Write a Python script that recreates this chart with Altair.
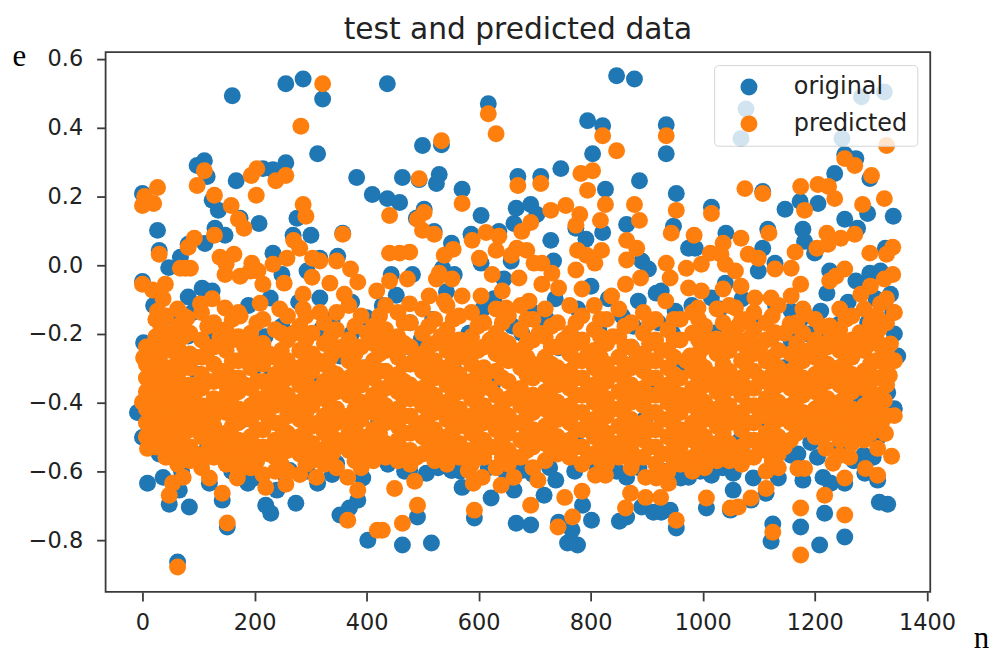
import altair as alt
import pandas as pd

orig_top_left = [(161,.488),(257,.523),(288,.537),(323,.479),(314,.32),(384,.251),(412,.202),(111,.30),(98,.286),(116,.254),(168,.242),(216,.277),(257,.294),(234,.274),(0,.205),(125,.185),(136,.156),(175,.133),(209,.118),(27,.098),(130,.104),(148,.084),(277,.133),(302,.084),(270,.084),(359,.09),(112,.06),(30,.04),(82,.058),(68,.02),(47,-.01),(234,.032),(350,.023),(318,.017),(295,-.02),(107,-.07),(82,-.095),(125,-.078),(0,-.05),(229,-.098),(250,-.03),(318,-.098),(402,-.155)]
orig_low_left = [(2,-.228),(82,-.208),(375,-.202),(354,-.266),(229,-.329),(-9,-.43),(0,-.502),(41,-.531),(116,-.534),(9,-.635),(37,-.618),(66,-.655),(48,-.696),(84,-.704),(120,-.635),(143,-.684),(152,-.762),(63,-.863),(221,-.699),(230,-.722),(275,-.693),(189,-.635),(241,-.655),(264,-.598),(314,-.635),(321,-.548),(348,-.577),(386,-.684),(354,-.727),(371,-.707),(404,-.8)]
orig_top_mid = [(439,.523),(620,.465),(502,.344),(536,.346),(850,.546),(882,.537),(798,.416),(825,.401),(807,.32),(750,.277),(891,.242),(466,.251),(496,.245),(532,.26),(527,.234),(573,.217),(673,.254),(714,.254),(830,.217),(439,.19),(461,.179),(505,.159),(491,.133),(607,.141),(670,.162),(696,.173),(707,.144),(666,.118),(523,.095),(554,.061),(589,.087),(639,.095),(732,.069),(868,.115),(825,.092),(795,.072),(777,.104),(607,.003),(661,.009),(737,.009),(895,.009),(907,-.014),(804,-.064),(889,-.107),(921,-.084),(446,-.03),(484,-.03),(538,-.012),(559,-.03),(648,-.043),(723,-.156)]
orig_low_mid = [(466,-.814),(518,-.808),(670,-.751),(696,-.756),(762,-.808),(780,-.814),(770,-.771),(746,-.748),(805,-.742),(855,-.745),(868,-.733),(789,-.699),(493,-.733),(595,-.736),(573,-.647),(625,-.678),(666,-.655),(720,-.67),(868,-.618),(741,-.626),(916,-.719),(895,-.704),(554,-.598),(479,-.598),(509,-.606),(680,-.598),(782,-.525),(841,-.569),(598,-.372),(627,-.352),(484,-.245),(550,-.237),(746,-.242),(500,-.217),(663,-.179),(725,-.185),(818,-.188),(877,-.242),(889,-.289),(911,-.361)]
orig_top_right = [(939,.404),(939,.32),(957,.205),(1020,.165),(952,.11),(979,.046),(1046,.09),(1121,.101),(1112,.046),(1112,.211),(1082,.45),(1073,.364),(1289,.485),(1330,.499),(1254,.364),(1241,.263),(1279,.306),(1259,.318),(1304,.248),(1152,.159),(1179,.182),(1211,.176),(1259,.13),(1300,.147),(1346,.139),(1282,.104),(1184,.101),(1187,.066),(1205,.032),(1232,-.02),(1227,-.084),(1279,-.049),(1304,-.026),(1323,-.02),(1341,-.087),(1332,.046),(1104,-.02),(1134,.003),(991,.046),(1045,-.055),(930,-.078),(1216,-.136),(1163,-.136),(955,-.136),(1020,-.098)]
orig_low_right = [(1336,-.696),(1321,-.69),(1259,-.791),(1214,-.814),(1180,-.762),(1130,-.753),(1127,-.803),(1223,-.722),(1011,-.707),(1054,-.713),(1059,-.655),(1059,-.606),(1020,-.612),(979,-.618),(957,-.765),(946,-.713),(930,-.719),(1184,-.626),(1220,-.618),(1234,-.635),(1259,-.635),(1295,-.606),(1318,-.626),(1118,-.664),(1091,-.684),(1198,-.517),(1163,-.554),(1071,-.511),(970,-.286),(1246,-.534),(1293,-.554),(1348,-.202),(1354,-.266),(1336,-.372),(1348,-.419),(1163,-.222),(1193,-.202),(1250,-.173),(1029,-.199),(1059,-.214),(1045,-.358),(1086,-.511),(1288,-.39)]
orig_band = [(60,-.16),(150,-.2),(250,-.18),(340,-.16),(430,-.12),(520,-.16),(610,-.13),(700,-.14),(780,-.13),(860,-.15),(950,-.2),(1100,-.17),(1300,-.17),(100,-.32),(200,-.3),(300,-.34),(400,-.3),(560,-.31),(690,-.28),(820,-.29),(1000,-.32),(1150,-.3),(1250,-.3),(40,-.45),(180,-.45),(420,-.47),(600,-.5),(900,-.45),(1120,-.45),(1320,-.5)]
orig_band_upper = [(20,-.12),(90,-.14),(120,-.2),(190,-.12),(220,-.21),(280,-.11),(320,-.19),(375,-.11),(410,-.22),(455,-.09),(480,-.17),(545,-.08),(585,-.2),(630,-.1),(680,-.2),(740,-.1),(770,-.21),(835,-.1),(880,-.18),(925,-.17),(985,-.12),(1035,-.13),(1075,-.1),(1135,-.12),(1180,-.16),(1210,-.2),(1265,-.11),(1315,-.1),(1345,-.14)]
orig_band_lower = [(30,-.55),(70,-.6),(105,-.58),(160,-.6),(200,-.62),(255,-.61),(295,-.6),(340,-.61),(395,-.62),(440,-.58),(470,-.6),(530,-.59),(570,-.6),(620,-.59),(650,-.6),(700,-.61),(730,-.59),(775,-.6),(815,-.59),(850,-.6),(890,-.59),(935,-.6),(965,-.62),(1000,-.6),(1040,-.59),(1095,-.62),(1140,-.62),(1175,-.55),(1210,-.56),(1275,-.57),(1310,-.56)]

pred_top_left = [(323,.523),(284,.40),(111,.271),(205,.277),(195,.257),(257,.257),(239,.242),(98,.228),(27,.222),(4,.196),(20,.176),(0,.17),(129,.2),(204,.2),(159,.17),(288,.173),(293,.139),(172,.13),(182,.104),(359,.087),(129,.084),(93,.075),(82,.049),(30,.029),(271,.069),(282,.046),(164,.029),(139,.02),(77,-.012),(86,-.012),(68,-.012),(150,0),(196,.003),(148,-.03),(175,-.035),(193,-.02),(207,-.02),(305,.017),(348,.009),(318,.009),(373,-.014),(304,-.038),(336,-.055),(386,-.052),(420,-.078),(234,0),(259,.017),(254,-.055),(216,-.058),(0,-.058),(41,-.058),(18,-.075),(37,-.1),(27,-.136),(362,-.087),(288,-.087),(211,-.113),(246,-.13),(288,-.13),(318,-.14),(348,-.14),(104,-.115),(125,-.1),(148,-.127),(175,-.15),(80,-.156)]
pred_low_left = [(2,-.271),(0,-.40),(9,-.534),(54,-.635),(48,-.67),(73,-.618),(107,-.554),(120,-.62),(143,-.664),(152,-.75),(63,-.878),(170,-.62),(221,-.647),(257,-.638),(312,-.618),(341,-.548),(330,-.531),(368,-.618),(386,-.655),(368,-.742),(421,-.771)]
pred_top_mid = [(620,.436),(634,.378),(536,.358),(496,.248),(573,.176),(443,.141),(505,.15),(493,.13),(502,.098),(523,.087),(673,.228),(714,.234),(825,.372),(850,.329),(786,.263),(807,.271),(798,.214),(830,.173),(882,.173),(891,.127),(732,.156),(759,.17),(784,.144),(777,.113),(821,.127),(696,.121),(680,.095),(616,.092),(639,.081),(591,.069),(443,.032),(461,.032),(479,.035),(557,.043),(541,.026),(604,.017),(634,.04),(661,.026),(689,.04),(671,.046),(780,.04),(796,.026),(823,.04),(868,.069),(886,.046),(868,.012),(811,.003),(777,-.017),(702,.003),(716,.003),(627,-.03),(532,-.026),(555,-.043),(527,-.043),(443,-.049),(475,-.043),(675,-.04),(734,-.026),(716,-.058),(893,-.04),(866,-.058),(788,-.072),(841,-.092),(746,-.069),(573,-.092),(607,-.092),(514,-.092),(645,-.078),(693,-.107),(652,-.127),(479,-.115),(541,-.107)]
pred_low_mid = [(452,-.65),(488,-.629),(493,-.699),(466,-.751),(430,-.771),(595,-.713),(696,-.699),(745,-.762),(771,-.733),(757,-.676),(788,-.658),(866,-.707),(875,-.664),(902,-.676),(709,-.626),(593,-.635),(609,-.618),(584,-.598),(643,-.641),(666,-.618),(830,-.612),(812,-.612),(880,-.569),(841,-.528),(921,-.62),(902,-.618)]
pred_top_right = [(939,.372),(957,.156),(1020,.147),(948,.09),(989,.084),(1080,.219),(1112,.205),(1123,.09),(1073,.075),(1041,.061),(1086,.029),(1104,.017),(1170,.035),(1018,.032),(1037,.029),(939,.003),(946,-.04),(975,-.012),(1002,0),(1045,0),(1063,-.02),(1134,-.014),(1163,-.012),(1180,.225),(1211,.231),(1230,.225),(1241,.19),(1187,.156),(1291,.173),(1330,.19),(1307,.257),(1259,.306),(1277,.286),(1227,.09),(1252,.075),(1277,.087),(1229,.058),(1209,.046),(1304,.032),(1345,.049),(1334,.029),(1259,-.014),(1243,-.035),(1232,-.049),(1345,-.03),(1330,-.043),(1305,-.064),(1288,-.087),(1180,-.058),(1163,-.092),(1041,-.072),(979,-.069),(1002,-.078),(1073,-.064),(1098,-.098),(1127,-.098),(938,-.107),(1250,-.13),(1348,-.14),(1323,-.115),(1187,-.144),(996,-.127),(1063,-.127),(1334,.344)]
pred_low_right = [(1180,-.843),(1130,-.777),(1180,-.707),(1259,-.727),(1223,-.67),(1011,-.678),(1054,-.707),(1068,-.704),(957,-.742),(929,-.676),(943,-.635),(1091,-.678),(1118,-.65),(1175,-.592),(1187,-.592),(1259,-.62),(1318,-.612),(1343,-.557),(1296,-.592),(1238,-.577),(1225,-.534),(1268,-.56),(1250,-.554),(1318,-.534),(1332,-.491),(1348,-.439),(1330,-.395),(1339,-.323),(1348,-.28),(1341,-.231),(1134,-.199),(1089,-.214),(1029,-.217),(1068,-.179),(1000,-.251),(982,-.266),(1234,-.214),(1286,-.199),(1321,-.188),(1161,-.173),(1180,-.251),(1232,-.179)]

pred_band_columns = [
 (7,[-.24,-.29,-.33,-.37,-.42,-.46,-.5]),
 (24,[-.16,-.21,-.27,-.31,-.36,-.4,-.45,-.49,-.53]),
 (42,[-.15,-.2,-.25,-.3,-.35,-.39,-.44,-.48,-.52,-.56]),
 (63,[-.13,-.18,-.24,-.28,-.33,-.37,-.41,-.46,-.5,-.54,-.58]),
 (85,[-.2,-.26,-.3,-.35,-.4,-.43,-.48,-.53,-.57]),
 (106,[-.14,-.22,-.27,-.32,-.36,-.41,-.45,-.5,-.59]),
 (128,[-.17,-.24,-.29,-.34,-.39,-.44,-.47,-.52,-.56]),
 (150,[-.19,-.25,-.31,-.35,-.38,-.43,-.49,-.54,-.58]),
 (172,[-.14,-.21,-.28,-.33,-.37,-.42,-.46,-.51,-.56,-.6]),
 (194,[-.2,-.26,-.3,-.36,-.41,-.45,-.5,-.55,-.59]),
 (216,[-.16,-.23,-.29,-.34,-.39,-.43,-.48,-.53,-.61]),
 (238,[-.19,-.27,-.32,-.37,-.41,-.46,-.51,-.56,-.6]),
 (260,[-.15,-.22,-.28,-.33,-.38,-.44,-.49,-.54,-.6]),
 (282,[-.18,-.25,-.3,-.35,-.4,-.45,-.5,-.55,-.61]),
 (304,[-.2,-.26,-.31,-.36,-.41,-.47,-.52,-.57]),
 (326,[-.17,-.23,-.29,-.34,-.39,-.44,-.49,-.58]),
 (348,[-.19,-.25,-.32,-.37,-.42,-.46,-.51,-.59]),
 (370,[-.12,-.22,-.28,-.33,-.38,-.44,-.49,-.54]),
 (392,[-.15,-.24,-.3,-.35,-.4,-.45,-.5,-.55,-.59]),
 (414,[-.18,-.23,-.28,-.33,-.38,-.43,-.48,-.53,-.57]),
 (436,[-.12,-.19,-.25,-.31,-.36,-.41,-.46,-.52,-.56]),
 (458,[-.14,-.21,-.27,-.32,-.37,-.42,-.47,-.51,-.57]),
 (480,[-.17,-.24,-.29,-.35,-.39,-.44,-.49,-.54,-.58]),
 (502,[-.13,-.2,-.26,-.31,-.36,-.41,-.46,-.5,-.55]),
 (524,[-.16,-.23,-.28,-.33,-.38,-.43,-.48,-.53,-.57]),
 (546,[-.12,-.19,-.25,-.3,-.35,-.4,-.45,-.5,-.55,-.58]),
 (568,[-.15,-.22,-.27,-.32,-.37,-.42,-.47,-.52,-.56]),
 (590,[-.14,-.21,-.29,-.34,-.39,-.44,-.49,-.54,-.58]),
 (612,[-.17,-.24,-.3,-.33,-.41,-.46,-.51,-.56]),
 (634,[-.13,-.2,-.26,-.31,-.38,-.43,-.48,-.53,-.59]),
 (656,[-.15,-.23,-.28,-.34,-.39,-.44,-.49,-.54,-.58]),
 (678,[-.12,-.19,-.25,-.3,-.36,-.41,-.46,-.51,-.56]),
 (700,[-.16,-.22,-.29,-.33,-.38,-.43,-.48,-.53,-.59]),
 (722,[-.13,-.21,-.27,-.32,-.37,-.42,-.47,-.52,-.57]),
 (744,[-.17,-.24,-.3,-.35,-.4,-.45,-.5,-.55]),
 (766,[-.12,-.2,-.26,-.31,-.36,-.41,-.46,-.51,-.56]),
 (788,[-.15,-.22,-.28,-.33,-.38,-.43,-.48,-.53,-.58]),
 (810,[-.12,-.19,-.25,-.3,-.35,-.4,-.45,-.5,-.55]),
 (832,[-.16,-.23,-.29,-.34,-.39,-.44,-.49,-.54,-.58]),
 (854,[-.13,-.21,-.27,-.32,-.37,-.42,-.47,-.52,-.56]),
 (876,[-.17,-.24,-.3,-.35,-.4,-.45,-.5,-.54,-.59]),
 (898,[-.14,-.2,-.26,-.31,-.36,-.41,-.46,-.51,-.56]),
 (920,[-.16,-.22,-.28,-.33,-.38,-.43,-.48,-.53,-.58]),
 (942,[-.19,-.25,-.3,-.35,-.4,-.45,-.5,-.55,-.6]),
 (964,[-.16,-.22,-.33,-.38,-.43,-.48,-.53,-.58]),
 (986,[-.14,-.2,-.31,-.36,-.41,-.46,-.51,-.56,-.6]),
 (1008,[-.18,-.24,-.3,-.35,-.4,-.45,-.5,-.55,-.59]),
 (1030,[-.13,-.26,-.32,-.37,-.42,-.47,-.52,-.57]),
 (1052,[-.12,-.19,-.25,-.31,-.36,-.41,-.46,-.52,-.57]),
 (1074,[-.16,-.23,-.28,-.33,-.38,-.43,-.48,-.53,-.58]),
 (1096,[-.14,-.19,-.26,-.31,-.36,-.41,-.46,-.51,-.56]),
 (1118,[-.17,-.22,-.28,-.34,-.39,-.44,-.49,-.54,-.6]),
 (1140,[-.12,-.25,-.3,-.35,-.4,-.45,-.5,-.55,-.59]),
 (1162,[-.18,-.26,-.31,-.36,-.41,-.46,-.51]),
 (1184,[-.13,-.2,-.28,-.33,-.38,-.43,-.48]),
 (1206,[-.16,-.22,-.27,-.32,-.37,-.42,-.47,-.5]),
 (1228,[-.24,-.29,-.34,-.39,-.44,-.49]),
 (1250,[-.19,-.25,-.3,-.35,-.4,-.45,-.51]),
 (1272,[-.15,-.22,-.27,-.32,-.37,-.42,-.47,-.52]),
 (1294,[-.13,-.2,-.25,-.31,-.36,-.41,-.46,-.51]),
 (1316,[-.15,-.22,-.28,-.33,-.38,-.43,-.48]),
 (1334,[-.1,-.17,-.26,-.3,-.35,-.44]),
]
pred_band_extra = [
 (15,[-.3,-.38,-.47]),(52,[-.22,-.32,-.43,-.51]),(95,[-.27,-.37,-.46,-.55]),(139,[-.21,-.31,-.4,-.5]),
 (183,[-.24,-.35,-.44,-.53]),(227,[-.26,-.36,-.45,-.55]),(271,[-.2,-.31,-.42,-.52]),(315,[-.28,-.38,-.46,-.54]),
 (359,[-.24,-.35,-.45,-.52]),(403,[-.2,-.31,-.41,-.51]),(447,[-.23,-.34,-.44,-.54]),(491,[-.27,-.37,-.47,-.56]),
 (535,[-.21,-.31,-.41,-.51]),(579,[-.25,-.35,-.45,-.54]),(623,[-.22,-.36,-.44,-.53]),(667,[-.26,-.37,-.46,-.56]),
 (711,[-.2,-.31,-.41,-.51]),(755,[-.22,-.33,-.43,-.53]),(799,[-.26,-.36,-.46,-.56]),(843,[-.21,-.32,-.42,-.52]),
 (887,[-.27,-.37,-.47,-.56]),(931,[-.25,-.36,-.45,-.55]),(975,[-.28,-.4,-.5,-.57]),(1019,[-.22,-.33,-.43,-.53]),
 (1063,[-.21,-.34,-.44,-.55]),(1107,[-.24,-.33,-.43,-.53]),(1151,[-.2,-.33,-.43,-.53]),(1195,[-.25,-.35,-.45]),
 (1239,[-.21,-.32,-.42,-.47]),(1283,[-.24,-.34,-.44,-.49]),(1325,[-.24,-.4,-.46]),
]
pred_band_third = [
 (33,[-.18,-.24,-.29,-.34,-.43,-.51]),(74,[-.15,-.21,-.3,-.39,-.44,-.52]),(117,[-.18,-.25,-.34,-.43,-.48,-.54]),
 (161,[-.16,-.22,-.28,-.33,-.41,-.47,-.52,-.57]),(205,[-.17,-.24,-.28,-.34,-.39,-.48,-.53,-.57]),(249,[-.2,-.25,-.3,-.35,-.4,-.47,-.52,-.58]),
 (293,[-.15,-.22,-.28,-.33,-.38,-.43,-.48,-.53,-.58]),(337,[-.21,-.27,-.31,-.36,-.41,-.48,-.53]),(381,[-.18,-.26,-.31,-.36,-.42,-.47,-.52,-.57]),
 (425,[-.15,-.21,-.26,-.31,-.36,-.39,-.44,-.49,-.54]),(469,[-.17,-.23,-.29,-.34,-.39,-.44,-.49,-.54]),(513,[-.18,-.24,-.29,-.34,-.39,-.44,-.48,-.52]),
 (557,[-.16,-.23,-.28,-.33,-.38,-.43,-.48,-.53]),(601,[-.18,-.25,-.32,-.37,-.42,-.47,-.52,-.56]),(645,[-.17,-.22,-.27,-.33,-.41,-.46,-.51,-.56]),
 (689,[-.16,-.23,-.27,-.32,-.39,-.44,-.49,-.54]),(733,[-.18,-.24,-.29,-.34,-.39,-.44,-.49,-.54]),(777,[-.17,-.23,-.28,-.33,-.38,-.43,-.48,-.53]),
 (821,[-.16,-.21,-.27,-.32,-.37,-.42,-.47,-.52,-.57]),(865,[-.18,-.24,-.29,-.34,-.39,-.44,-.49,-.54]),(909,[-.17,-.23,-.28,-.33,-.38,-.43,-.48,-.53]),
 (953,[-.16,-.22,-.27,-.32,-.37,-.42,-.47,-.52,-.57]),(997,[-.16,-.22,-.28,-.33,-.38,-.43,-.48,-.53]),(1041,[-.17,-.23,-.29,-.34,-.39,-.44,-.49,-.54]),
 (1085,[-.16,-.25,-.3,-.36,-.41,-.46,-.51,-.56]),(1129,[-.15,-.21,-.27,-.32,-.37,-.42,-.47,-.52,-.57]),(1173,[-.17,-.23,-.29,-.34,-.39,-.44,-.49]),
 (1217,[-.18,-.25,-.3,-.35,-.4,-.45,-.5]),(1261,[-.16,-.23,-.28,-.33,-.38,-.43,-.48]),(1305,[-.17,-.23,-.29,-.34,-.39,-.44,-.49]),
]

legend_names = ["original", "predicted"]
legend_colors = ["#1f77b4", "#ff7f0e"]
y_ticks = [-0.8, -0.6, -0.4, -0.2, 0.0, 0.2, 0.4, 0.6]
x_ticks = [0, 200, 400, 600, 800, 1000, 1200, 1400]

orig = orig_top_left + orig_low_left + orig_top_mid + orig_low_mid + orig_top_right + orig_low_right + orig_band + orig_band_upper + orig_band_lower
pred = pred_top_left + pred_low_left + pred_top_mid + pred_low_mid + pred_top_right + pred_low_right
for cx, ys in pred_band_columns + pred_band_extra + pred_band_third:
    pred = pred + [(cx, v) for v in ys]

# The readings above were taken against a first estimate of the tick spacing;
# these two factors bring them onto the measured tick positions.
n_per_reading = 0.56 / 0.5625
e_per_reading = 346.4 / 345.0
e_shift = 1 / 345.0

df = pd.DataFrame(
    [{"n": a * n_per_reading, "e": b * e_per_reading + e_shift, "series": "original"} for a, b in orig]
    + [{"n": a * n_per_reading, "e": b * e_per_reading + e_shift, "series": "predicted"} for a, b in pred]
)

chart = (
    alt.Chart(df)
    .mark_circle(size=289, opacity=1)
    .encode(
        x=alt.X("n:Q", scale=alt.Scale(domain=[-65.8, 1406], nice=False, zero=False),
                axis=alt.Axis(values=x_ticks, format="d", title="n", titleFont="Liberation Serif",
                              titleFontSize=31, titleFontWeight="normal", titleX=879, titleY=56,
                              titleAngle=0, titleAlign="center", titleBaseline="alphabetic",
                              labelPadding=11)),
        y=alt.Y("e:Q", scale=alt.Scale(domain=[-0.951, 0.62], nice=False, zero=False),
                axis=alt.Axis(values=y_ticks, format=".1f", title="e", titleFont="Liberation Serif",
                              titleFontSize=31, titleFontWeight="normal", titleAngle=0,
                              titleX=-87, titleY=13, titleAlign="center", titleBaseline="alphabetic",
                              labelPadding=14)),
        color=alt.Color("series:N", scale=alt.Scale(domain=legend_names, range=legend_colors),
                        legend=alt.Legend(title=None, orient="none", legendX=611, legendY=13, zindex=1,
                                          fillColor="rgba(255,255,255,0.8)", strokeColor="#d5d5d5",
                                          cornerRadius=4, padding=10, symbolType="circle", symbolSize=289,
                                          symbolOffset=13, labelOffset=33, labelFontSize=24,
                                          labelColor="#222222", labelFont="DejaVu Sans", rowPadding=13,
                                          symbolStrokeWidth=0, symbolOpacity=1)),
    )
    .properties(
        width=828, height=542,
        title=alt.TitleParams("test and predicted data", font="DejaVu Sans", fontSize=29.8,
                              fontWeight="normal", color="#222222", offset=-5),
        padding={"left": 4, "right": 0, "top": 6, "bottom": 0},
    )
    .configure_view(stroke="#3a3a3a", strokeWidth=1.8)
    .configure_axis(grid=False, domain=False, tickColor="#3a3a3a", tickWidth=1.8, tickSize=9,
                    labelFont="DejaVu Sans", labelFontSize=22.5, labelColor="#222222")
)

chart.save("out.html", embed_options={"renderer": "svg", "actions": False})
